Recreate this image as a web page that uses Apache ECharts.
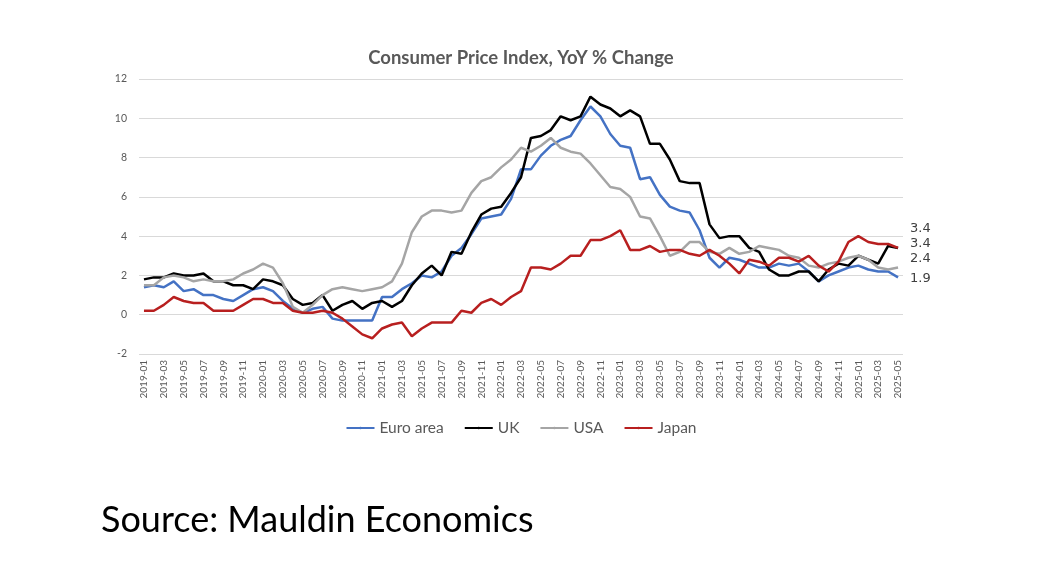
<!DOCTYPE html>
<html>
<head>
<meta charset="utf-8">
<script src="https://cdn.jsdelivr.net/npm/echarts@6/dist/echarts.min.js"></script>
<style>
  html, body { margin: 0; padding: 0; background: #fff; }
  #box { width: 1042px; height: 582px; }
</style>
</head>
<body>
<div id="box"></div>
<script>
// monthly labels 2019-01 .. 2025-05
let months = [];
for (let y = 2019; y <= 2025; y++) {
    for (let m = 1; m <= 12; m++) {
        if (y == 2025 && m > 5) break;
        months.push(y + '-' + (m < 10 ? '0' + m : m));
    }
}

let euroArea = [
    1.4, 1.5, 1.4, 1.7, 1.2, 1.3, 1.0, 1.0, 0.8, 0.7, 1.0, 1.3,
    1.4, 1.2, 0.7, 0.3, 0.1, 0.3, 0.4, -0.2, -0.3, -0.3, -0.3, -0.3,
    0.9, 0.9, 1.3, 1.6, 2.0, 1.9, 2.2, 3.0, 3.4, 4.1, 4.9, 5.0,
    5.1, 5.9, 7.4, 7.4, 8.1, 8.6, 8.9, 9.1, 9.9, 10.6, 10.1, 9.2,
    8.6, 8.5, 6.9, 7.0, 6.1, 5.5, 5.3, 5.2, 4.3, 2.9, 2.4, 2.9,
    2.8, 2.6, 2.4, 2.4, 2.6, 2.5, 2.6, 2.2, 1.7, 2.0, 2.2, 2.4,
    2.5, 2.3, 2.2, 2.2, 1.9
];
let uk = [
    1.8, 1.9, 1.9, 2.1, 2.0, 2.0, 2.1, 1.7, 1.7, 1.5, 1.5, 1.3,
    1.8, 1.7, 1.5, 0.8, 0.5, 0.6, 1.0, 0.2, 0.5, 0.7, 0.3, 0.6,
    0.7, 0.4, 0.7, 1.5, 2.1, 2.5, 2.0, 3.2, 3.1, 4.2, 5.1, 5.4,
    5.5, 6.2, 7.0, 9.0, 9.1, 9.4, 10.1, 9.9, 10.1, 11.1, 10.7, 10.5,
    10.1, 10.4, 10.1, 8.7, 8.7, 7.9, 6.8, 6.7, 6.7, 4.6, 3.9, 4.0,
    4.0, 3.4, 3.2, 2.3, 2.0, 2.0, 2.2, 2.2, 1.7, 2.3, 2.6, 2.5,
    3.0, 2.8, 2.6, 3.5, 3.4
];
let usa = [
    1.5, 1.5, 1.9, 2.0, 1.9, 1.7, 1.8, 1.7, 1.7, 1.8, 2.1, 2.3,
    2.6, 2.4, 1.6, 0.4, 0.1, 0.5, 1.0, 1.3, 1.4, 1.3, 1.2, 1.3,
    1.4, 1.7, 2.6, 4.2, 5.0, 5.3, 5.3, 5.2, 5.3, 6.2, 6.8, 7.0,
    7.5, 7.9, 8.5, 8.3, 8.6, 9.0, 8.5, 8.3, 8.2, 7.7, 7.1, 6.5,
    6.4, 6.0, 5.0, 4.9, 4.0, 3.0, 3.2, 3.7, 3.7, 3.2, 3.1, 3.4,
    3.1, 3.2, 3.5, 3.4, 3.3, 3.0, 2.9, 2.5, 2.4, 2.6, 2.7, 2.9,
    3.0, 2.8, 2.4, 2.3, 2.4
];
let japan = [
    0.2, 0.2, 0.5, 0.9, 0.7, 0.6, 0.6, 0.2, 0.2, 0.2, 0.5, 0.8,
    0.8, 0.6, 0.6, 0.2, 0.1, 0.1, 0.2, 0.1, -0.2, -0.6, -1.0, -1.2,
    -0.7, -0.5, -0.4, -1.1, -0.7, -0.4, -0.4, -0.4, 0.2, 0.1, 0.6, 0.8,
    0.5, 0.9, 1.2, 2.4, 2.4, 2.3, 2.6, 3.0, 3.0, 3.8, 3.8, 4.0,
    4.3, 3.3, 3.3, 3.5, 3.2, 3.3, 3.3, 3.1, 3.0, 3.3, 3.0, 2.6,
    2.1, 2.8, 2.7, 2.5, 2.9, 2.9, 2.7, 3.0, 2.5, 2.2, 2.7, 3.7,
    4.0, 3.7, 3.6, 3.6, 3.4
];

let names = ['Euro area', 'UK', 'USA', 'Japan'];
let colors = ['#4472C4', '#000000', '#A5A5A5', '#B81F1F'];
let values = [euroArea, uk, usa, japan];
let labelShift = [1, -19, -9, -4];

let mychart = echarts.init(document.getElementById('box'));

let series = [];
for (let i = 0; i < names.length; i++) {
    series.push({
        name: names[i],
        type: 'line',
        data: values[i],
        symbol: 'none',
        showSymbol: false,
        lineStyle: { width: 2.5, color: colors[i] },
        itemStyle: { color: colors[i] },
        endLabel: {
            show: true,
            distance: 12,
            offset: [0, labelShift[i]],
            fontFamily: 'DejaVu Sans',
            fontSize: 13,
            color: '#404040',
            formatter: p => p.value.toFixed(1)
        },
        z: i == 3 ? 5 : 2
    });
}

let options = {
    backgroundColor: '#ffffff',
    animation: false,
    title: [
        {
            text: 'Consumer Price Index, YoY % Change',
            left: 'center',
            top: 44,
            textStyle: { fontFamily: 'Lato', fontWeight: 'bold', fontSize: 18.5, color: '#595959' }
        },
        {
            text: 'Source: Mauldin Economics',
            left: 96,
            top: 497,
            textStyle: { fontFamily: 'Lato', fontWeight: 'normal', fontSize: 36, color: '#000000' }
        }
    ],
    grid: { left: 139, right: 139, top: 79, bottom: 228, containLabel: false },
    legend: {
        data: names,
        top: 415,
        left: 'center',
        itemWidth: 28,
        itemHeight: 3,
        itemGap: 20,
        textStyle: { fontFamily: 'Lato', fontSize: 15.5, color: '#595959' }
    },
    xAxis: {
        type: 'category',
        data: months,
        boundaryGap: true,
        axisLine: { show: false, onZero: false },
        axisTick: { show: false },
        axisLabel: {
            interval: 1,
            rotate: 90,
            fontFamily: 'Lato',
            fontSize: 10,
            color: '#595959',
            margin: 6
        }
    },
    yAxis: {
        type: 'value',
        min: -2,
        max: 12,
        interval: 2,
        axisLine: { show: false },
        axisTick: { show: false },
        axisLabel: { fontFamily: 'Lato', fontSize: 10.5, color: '#595959', margin: 12 },
        splitLine: { lineStyle: { color: '#d9d9d9', width: 1 } }
    },
    series: series
};

mychart.setOption(options);
</script>
</body>
</html>
